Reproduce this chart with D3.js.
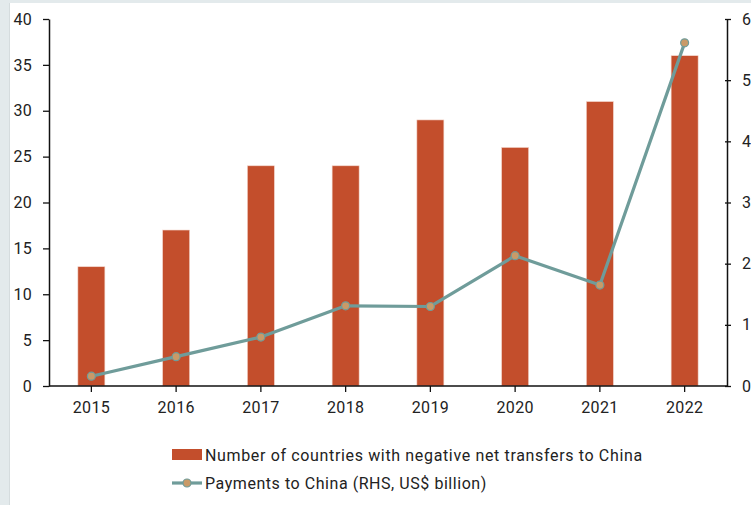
<!DOCTYPE html>
<html><head><meta charset="utf-8">
<script src="https://cdn.jsdelivr.net/npm/d3@7"></script>
<style>
html,body{margin:0;padding:0;background:#fff;overflow:hidden}
svg{display:block;font-family:Roboto,"Noto Sans",sans-serif}
</style></head>
<body>
<svg id="c" width="751" height="505"></svg>
<script>
const years = ["2015","2016","2017","2018","2019","2020","2021","2022"];
const countries = [13,17,24,24,29,26,31,36];
const payments = [0.16,0.48,0.80,1.31,1.30,2.13,1.65,5.61];
const leftTicks = [0,5,10,15,20,25,30,35,40];
const rightTicks = [0,1,2,3,4,5,6];
const legendLabels = ["Number of countries with negative net transfers to China","Payments to China (RHS, US$ billion)"];

const svg = d3.select("#c");
const W=751,H=505;
svg.append("rect").attr("x",0).attr("y",0).attr("width",W).attr("height",H).attr("fill","#e3eaec");
svg.append("rect").attr("x",9).attr("y",3).attr("width",W-9).attr("height",H-3).attr("fill","#d5dcde");
svg.append("rect").attr("x",10).attr("y",3).attr("width",W-10).attr("height",H-3).attr("fill","#ffffff");

const L=49,R=727,T=19,B=386;
const x = d3.scaleBand().domain(years).range([L,R]);
const yL = d3.scaleLinear().domain([0,40]).range([B,T]);
const yR = d3.scaleLinear().domain([0,6]).range([B,T]);

const barColor="#c34e2c", lineColor="#6f9c9a", markerFill="#c99a68";
const bw = 27;

svg.append("g").selectAll("rect").data(years).join("rect")
  .attr("x",(d)=>x(d)+x.bandwidth()/2-bw/2)
  .attr("y",(d,i)=>yL(countries[i]))
  .attr("width",bw)
  .attr("height",(d,i)=>B-yL(countries[i]))
  .attr("fill",barColor)
  .attr("stroke","#f3d6cc").attr("stroke-width",0.6);

const font=16, txtCol="#222";
const gL = svg.append("g").attr("transform",`translate(${L},0)`)
  .call(d3.axisLeft(yL).tickValues(leftTicks).tickSize(6).tickPadding(11).tickSizeOuter(0));
const gR = svg.append("g").attr("transform",`translate(${R},0)`)
  .call(d3.axisRight(yR).tickValues(rightTicks).tickSize(4).tickPadding(11).tickSizeOuter(0));
gR.selectAll(".tick line").attr("x1",-2).attr("x2",4);
const gX = svg.append("g").attr("transform",`translate(0,${B})`)
  .call(d3.axisBottom(x).tickSize(6).tickPadding(10).tickSizeOuter(0));
[gL,gR,gX].forEach(g=>{
  g.selectAll(".domain").attr("stroke","#111").attr("stroke-width",1.5);
  g.selectAll(".tick line").attr("stroke","#111").attr("stroke-width",1.3);
  g.selectAll("text").attr("font-size",font).attr("fill",txtCol).attr("font-family","Roboto, sans-serif").attr("letter-spacing","0.3px");
});
gX.select(".domain").attr("d",`M${L},0H${R}`);

const line = d3.line().x((d,i)=>x(years[i])+x.bandwidth()/2).y(d=>yR(d));
svg.append("path").datum(payments).attr("d",line).attr("fill","none")
  .attr("stroke",lineColor).attr("stroke-width",3.2).attr("stroke-linejoin","round");
svg.append("g").selectAll("circle").data(payments).join("circle")
  .attr("cx",(d,i)=>x(years[i])+x.bandwidth()/2).attr("cy",d=>yR(d)).attr("r",4)
  .attr("fill",markerFill).attr("stroke",lineColor).attr("stroke-width",1.2);

const lg = svg.append("g");
lg.append("rect").attr("x",172).attr("y",449).attr("width",30).attr("height",11).attr("fill",barColor);
lg.append("text").attr("x",205).attr("y",455).attr("dy","0.35em").attr("font-size",font).attr("letter-spacing","0.65px").attr("fill",txtCol).text(legendLabels[0]);
lg.append("line").attr("x1",172).attr("x2",202).attr("y1",483).attr("y2",483).attr("stroke",lineColor).attr("stroke-width",3.2);
lg.append("circle").attr("cx",187).attr("cy",483).attr("r",4).attr("fill",markerFill).attr("stroke",lineColor).attr("stroke-width",1.2);
lg.append("text").attr("x",205).attr("y",483).attr("dy","0.35em").attr("font-size",font).attr("letter-spacing","0.55px").attr("fill",txtCol).text(legendLabels[1]);
</script>
</body></html>
